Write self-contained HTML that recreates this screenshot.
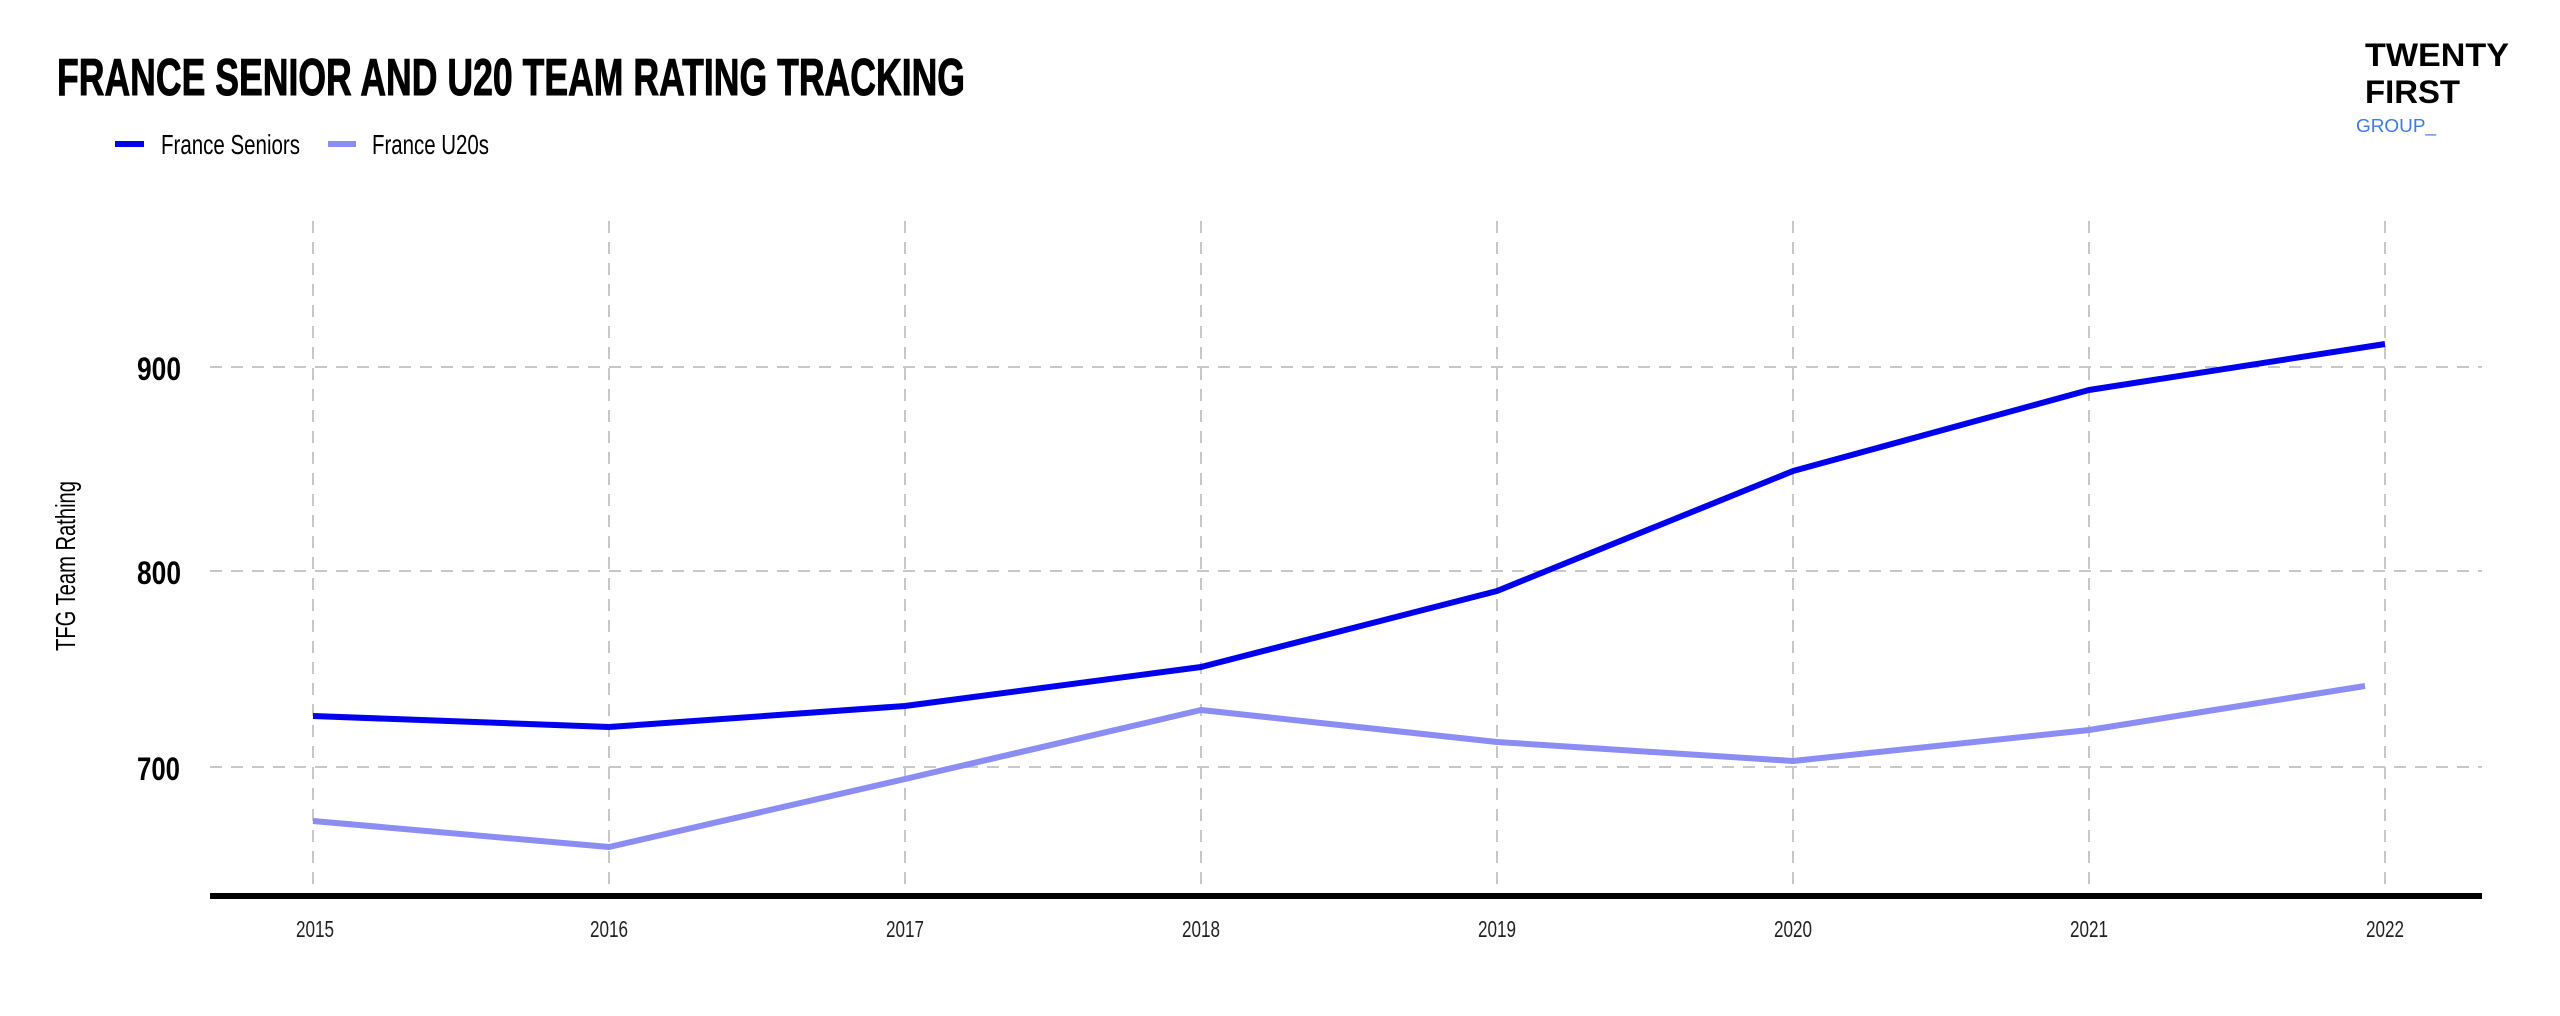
<!DOCTYPE html>
<html><head><meta charset="utf-8"><style>
html,body{margin:0;padding:0;background:#fff;}
svg{display:block;}
text{font-family:"Liberation Sans Narrow","Liberation Sans",sans-serif;}
</style></head><body>
<svg width="2560" height="1016" viewBox="0 0 2560 1016" xmlns="http://www.w3.org/2000/svg">
<rect width="2560" height="1016" fill="#fff"/>
<text x="57" y="95" font-size="52" font-weight="bold" fill="#000" stroke="#000" stroke-width="1" textLength="908" lengthAdjust="spacingAndGlyphs">FRANCE SENIOR AND U20 TEAM RATING TRACKING</text>
<line x1="115" y1="144" x2="144" y2="144" stroke="#0000ee" stroke-width="6"/>
<text x="161" y="154" font-size="28" fill="#000" textLength="139" lengthAdjust="spacingAndGlyphs">France Seniors</text>
<line x1="328" y1="144" x2="356" y2="144" stroke="#8c8cf5" stroke-width="6"/>
<text x="372" y="154" font-size="28" fill="#000" textLength="117" lengthAdjust="spacingAndGlyphs">France U20s</text>
<g font-family="Liberation Sans, sans-serif" font-weight="bold">
<text x="2365" y="66" font-size="32" fill="#000" textLength="144" lengthAdjust="spacingAndGlyphs">TWENTY</text>
<text x="2365" y="103" font-size="32" fill="#000" textLength="95" lengthAdjust="spacingAndGlyphs">FIRST</text>
</g>
<text x="2356" y="132" font-size="18" fill="#3d7be0" font-family="Liberation Sans, sans-serif" textLength="80" lengthAdjust="spacingAndGlyphs">GROUP_</text>
<g stroke="#c8c8c8" stroke-width="2" stroke-dasharray="12,9">
<line x1="210" y1="367" x2="2482" y2="367"/>
<line x1="210" y1="571" x2="2482" y2="571"/>
<line x1="210" y1="767" x2="2482" y2="767"/>
<line x1="313" y1="221" x2="313" y2="893"/>
<line x1="609" y1="221" x2="609" y2="893"/>
<line x1="905" y1="221" x2="905" y2="893"/>
<line x1="1201" y1="221" x2="1201" y2="893"/>
<line x1="1497" y1="221" x2="1497" y2="893"/>
<line x1="1793" y1="221" x2="1793" y2="893"/>
<line x1="2089" y1="221" x2="2089" y2="893"/>
<line x1="2385" y1="221" x2="2385" y2="893"/>
</g>
<line x1="210" y1="896" x2="2482" y2="896" stroke="#000" stroke-width="6"/>
<g font-size="32" font-weight="bold" fill="#000">
<text x="137" y="380" textLength="44" lengthAdjust="spacingAndGlyphs">900</text>
<text x="137" y="584" textLength="44" lengthAdjust="spacingAndGlyphs">800</text>
<text x="137" y="780" textLength="43" lengthAdjust="spacingAndGlyphs">700</text>
</g>
<text transform="translate(75,566) rotate(-90)" font-size="28" fill="#000" text-anchor="middle" textLength="170" lengthAdjust="spacingAndGlyphs">TFG Team Rathing</text>
<g font-size="23" fill="#222">
<text x="296" y="937" textLength="38" lengthAdjust="spacingAndGlyphs">2015</text>
<text x="590" y="937" textLength="38" lengthAdjust="spacingAndGlyphs">2016</text>
<text x="886" y="937" textLength="38" lengthAdjust="spacingAndGlyphs">2017</text>
<text x="1182" y="937" textLength="38" lengthAdjust="spacingAndGlyphs">2018</text>
<text x="1478" y="937" textLength="38" lengthAdjust="spacingAndGlyphs">2019</text>
<text x="1774" y="937" textLength="38" lengthAdjust="spacingAndGlyphs">2020</text>
<text x="2070" y="937" textLength="38" lengthAdjust="spacingAndGlyphs">2021</text>
<text x="2366" y="937" textLength="38" lengthAdjust="spacingAndGlyphs">2022</text>
</g>
<polyline fill="none" stroke="#0000ee" stroke-width="6" stroke-linejoin="round" points="313,716 609,727 905,706 1201,667 1497,591 1793,471 2089,390 2385,344"/>
<polyline fill="none" stroke="#8c8cf5" stroke-width="6" stroke-linejoin="round" points="313,821 609,847 905,779 1201,710 1497,742 1793,761 2089,730 2365,686"/>
</svg>
</body></html>
